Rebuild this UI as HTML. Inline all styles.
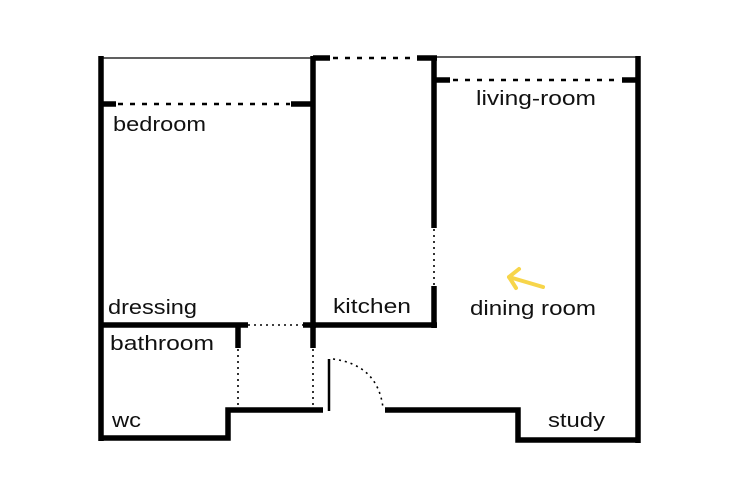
<!DOCTYPE html>
<html><head><meta charset="utf-8"><style>
html,body{margin:0;padding:0;background:#fff;}
svg{display:block;}
text{font-family:"Liberation Sans",sans-serif;font-size:20px;fill:#111;}
</style></head><body>
<svg width="750" height="500" viewBox="0 0 750 500" xmlns="http://www.w3.org/2000/svg">
<g stroke="#000" fill="none">
<!-- thin top lines -->
<line x1="101" y1="58" x2="313" y2="58" stroke-width="1.2"/>
<line x1="434" y1="57" x2="638" y2="57" stroke-width="1.2"/>
<!-- thick walls -->
<g stroke-width="5.5" stroke-linecap="butt">
<line x1="101" y1="56" x2="101" y2="441"/>
<polyline points="98.5,438 228,438 228,410 323,410"/>
<line x1="101" y1="325" x2="248" y2="325"/>
<line x1="238" y1="325" x2="238" y2="348"/>
<line x1="303" y1="325" x2="316" y2="325"/>
<line x1="313" y1="325" x2="313" y2="348"/>
<line x1="313" y1="56" x2="313" y2="328"/>
<line x1="313" y1="58" x2="330" y2="58"/>
<line x1="417" y1="58" x2="437" y2="58"/>
<line x1="434" y1="56" x2="434" y2="228"/>
<line x1="434" y1="286" x2="434" y2="328"/>
<line x1="313" y1="325" x2="437" y2="325"/>
<line x1="434" y1="80" x2="450" y2="80"/>
<line x1="622" y1="80" x2="640" y2="80"/>
<line x1="638" y1="56" x2="638" y2="443"/>
<polyline points="385,410 518,410 518,440 640.5,440"/>
<line x1="101" y1="104" x2="116" y2="104"/>
<line x1="291" y1="104" x2="313" y2="104"/>
</g>
<!-- dashed -->
<g stroke-width="2.5" stroke-dasharray="5,7">
<line x1="118" y1="104" x2="290" y2="104"/>
<line x1="333" y1="58" x2="417" y2="58"/>
<line x1="453" y1="80" x2="621" y2="80"/>
</g>
<!-- dotted -->
<g stroke-width="1.6" stroke-dasharray="2,4">
<line x1="248" y1="325" x2="303" y2="325"/>
<line x1="238" y1="349" x2="238" y2="408"/>
<line x1="313" y1="349" x2="313" y2="408"/>
<line x1="434" y1="229" x2="434" y2="286"/>
<path d="M333,359 Q378,365 383,408"/>
</g>
<line x1="329" y1="359" x2="329" y2="411" stroke-width="2.5"/>
<!-- arrow -->
<g stroke="#f7d54a" stroke-width="4" stroke-linecap="round" stroke-linejoin="round">
<line x1="543" y1="287" x2="509" y2="277"/>
<polyline points="519,269 509,277 516,288"/>
</g>
</g>
<text x="113" y="131" textLength="93" lengthAdjust="spacingAndGlyphs">bedroom</text>
<text x="476" y="105" textLength="120" lengthAdjust="spacingAndGlyphs">living-room</text>
<text x="108" y="314" textLength="89" lengthAdjust="spacingAndGlyphs">dressing</text>
<text x="333" y="313" textLength="78" lengthAdjust="spacingAndGlyphs">kitchen</text>
<text x="110" y="350" textLength="104" lengthAdjust="spacingAndGlyphs">bathroom</text>
<text x="470" y="315" textLength="126" lengthAdjust="spacingAndGlyphs">dining room</text>
<text x="112" y="427" textLength="29" lengthAdjust="spacingAndGlyphs">wc</text>
<text x="548" y="427" textLength="57" lengthAdjust="spacingAndGlyphs">study</text>
</svg>
</body></html>
